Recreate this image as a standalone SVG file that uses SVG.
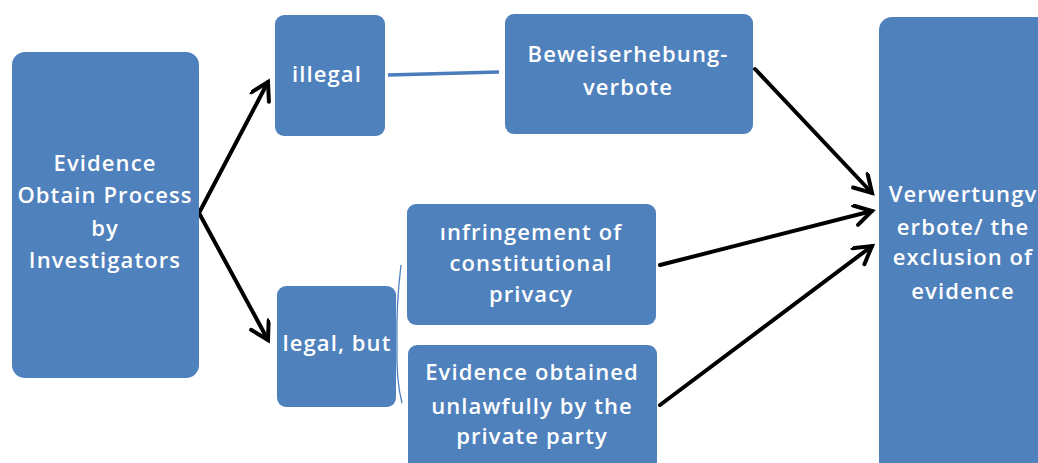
<svg xmlns="http://www.w3.org/2000/svg" width="1038" height="463" viewBox="0 0 1038 463">
  <style>
    .box { fill: #4F81BD; }
    .lbl { fill: #FFFFFF; font-family: "Open Sans", Lato, "Liberation Sans", sans-serif; font-weight: 600; font-size: 22px; letter-spacing: 1.1px; text-anchor: middle; }
    .arrow { fill: none; stroke: #000000; stroke-width: 4; stroke-linecap: round; marker-end: url(#head); }
    .link { fill: none; stroke: #4A7DBA; stroke-width: 3.5; }
    .brace { fill: none; stroke: #4F81BD; stroke-width: 1.3; }
  </style>
  <defs>
    <marker id="head" markerUnits="userSpaceOnUse" markerWidth="30" markerHeight="30" refX="20" refY="11" orient="auto">
      <path d="M3,1 L20,11 L3,21" fill="none" stroke="#000000" stroke-width="4" stroke-linecap="round" stroke-linejoin="miter"/>
    </marker>
  </defs>
  <rect width="1038" height="463" fill="#FFFFFF"/>

  <g id="connectors">
    <path class="arrow" d="M199,213 L268,82"/>
    <path class="arrow" d="M199,213 L268,340"/>
    <path class="link" d="M388,75 L499,72"/>
    <path class="brace" d="M401,265 Q396,305 397,345 Q396,380 402,403"/>
    <path class="arrow" d="M755,69 L872,193"/>
    <path class="arrow" d="M660,265 L872,211"/>
    <path class="arrow" d="M660,405 L872,246"/>
  </g>

  <g id="evidence-obtain-process">
    <rect class="box" x="12" y="52" width="187" height="326" rx="13"/>
    <text class="lbl" x="105" y="171">Evidence</text>
    <text class="lbl" x="105" y="203">Obtain Process</text>
    <text class="lbl" x="105" y="236">by</text>
    <text class="lbl" x="105" y="268">Investigators</text>
  </g>

  <g id="illegal">
    <rect class="box" x="275" y="15" width="110" height="121" rx="9"/>
    <text class="lbl" x="327" y="82">illegal</text>
  </g>

  <g id="beweiserhebungverbote">
    <rect class="box" x="505" y="14" width="248" height="120" rx="9"/>
    <text class="lbl" x="628" y="62">Beweiserhebung-</text>
    <text class="lbl" x="628" y="95">verbote</text>
  </g>

  <g id="legal-but">
    <rect class="box" x="277" y="286" width="119" height="121" rx="9"/>
    <text class="lbl" x="337" y="351">legal, but</text>
  </g>

  <g id="infringement">
    <rect class="box" x="407" y="204" width="249" height="121" rx="9"/>
    <text class="lbl" x="531" y="240">ınfringement  of</text>
    <text class="lbl" x="531" y="271">constitutional</text>
    <text class="lbl" x="531" y="302">privacy</text>
  </g>

  <g id="private-party">
    <rect class="box" x="408" y="345" width="249" height="130" rx="9"/>
    <text class="lbl" x="532" y="380">Evidence obtained</text>
    <text class="lbl" x="532" y="414">unlawfully by the</text>
    <text class="lbl" x="532" y="444">private party</text>
  </g>

  <g id="exclusion-of-evidence">
    <rect class="box" x="879" y="17" width="175" height="460" rx="13"/>
    <text class="lbl" x="963" y="202">Verwertungv</text>
    <text class="lbl" x="963" y="235">erbote/ the</text>
    <text class="lbl" x="963" y="265">exclusion of</text>
    <text class="lbl" x="963" y="299">evidence</text>
  </g>
</svg>
